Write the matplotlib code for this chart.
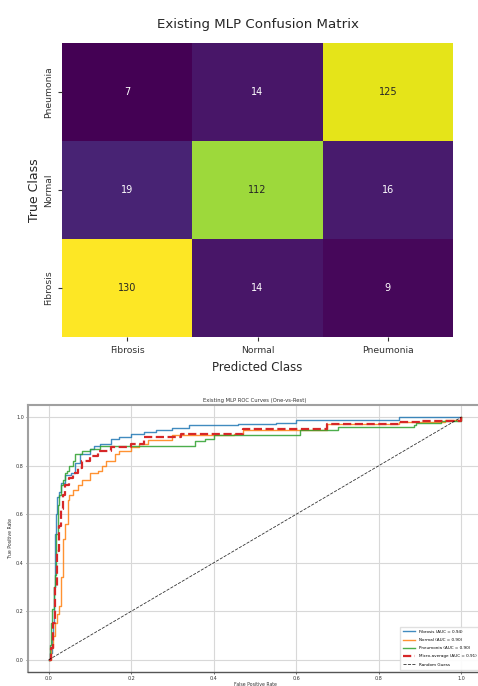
import matplotlib
matplotlib.use("Agg")
import matplotlib.pyplot as plt
import numpy as np
import seaborn as sns

# =========================
# 1. data
# =========================
classes = ["Fibrosis", "Normal", "Pneumonia"]
# rows = true class (Fibrosis, Normal, Pneumonia), cols = predicted class
cm_fibrosis = [130, 14, 9]
cm_normal = [19, 112, 16]
cm_pneumonia = [7, 14, 125]

# ROC curves
fib_fpr = [0, 0.003, 0.008, 0.010, 0.012, 0.015, 0.017, 0.020, 0.025, 0.030, 0.040, 0.055, 0.065,
           0.075, 0.10, 0.11, 0.125, 0.15, 0.17, 0.20, 0.23, 0.26, 0.30, 0.34, 0.46, 0.55, 0.60, 0.85, 1.0]
fib_tpr = [0, 0.03, 0.10, 0.15, 0.30, 0.52, 0.60, 0.67, 0.69, 0.73, 0.76, 0.77, 0.81,
           0.85, 0.87, 0.88, 0.89, 0.91, 0.92, 0.93, 0.94, 0.945, 0.955, 0.966, 0.973, 0.977, 0.99, 1.0, 1.0]

nor_fpr = [0, 0.005, 0.010, 0.015, 0.020, 0.025, 0.030, 0.030, 0.035, 0.040, 0.048, 0.048, 0.050,
           0.060, 0.070, 0.080, 0.10, 0.12, 0.13, 0.14, 0.16, 0.17, 0.20, 0.22, 0.24, 0.30, 0.45,
           0.47, 0.61, 0.675, 0.85, 0.96, 1.0]
nor_tpr = [0, 0.05, 0.10, 0.15, 0.19, 0.22, 0.22, 0.34, 0.50, 0.56, 0.56, 0.66, 0.68,
           0.70, 0.72, 0.74, 0.77, 0.78, 0.80, 0.82, 0.85, 0.86, 0.875, 0.89, 0.904, 0.927, 0.932,
           0.945, 0.948, 0.973, 0.98, 0.99, 1.0]

pne_fpr = [0, 0.003, 0.005, 0.008, 0.012, 0.013, 0.015, 0.018, 0.022, 0.022, 0.025, 0.030, 0.035,
           0.040, 0.045, 0.050, 0.060, 0.065, 0.080, 0.10, 0.125, 0.35, 0.355, 0.38, 0.40, 0.60,
           0.61, 0.70, 0.885, 0.89, 0.95, 1.0]
pne_tpr = [0, 0.06, 0.15, 0.21, 0.21, 0.30, 0.35, 0.52, 0.52, 0.64, 0.68, 0.72, 0.74,
           0.77, 0.78, 0.80, 0.82, 0.85, 0.86, 0.87, 0.88, 0.88, 0.90, 0.91, 0.925, 0.925,
           0.945, 0.959, 0.966, 0.977, 0.984, 1.0]

mic_fpr = [0, 0.005, 0.010, 0.015, 0.020, 0.025, 0.030, 0.035, 0.040, 0.050, 0.060, 0.070, 0.080,
           0.10, 0.12, 0.15, 0.20, 0.23, 0.32, 0.45, 0.47, 0.60, 0.675, 0.85, 0.90, 1.0]
mic_tpr = [0, 0.05, 0.15, 0.30, 0.45, 0.55, 0.62, 0.68, 0.72, 0.75, 0.77, 0.79, 0.82,
           0.84, 0.86, 0.875, 0.89, 0.918, 0.932, 0.932, 0.952, 0.952, 0.973, 0.98, 0.986, 1.0]

roc_labels = ["Fibrosis (AUC = 0.94)", "Normal (AUC = 0.90)", "Pneumonia (AUC = 0.90)",
              "Micro-average (AUC = 0.91)", "Random Guess"]

# =========================
# 2. figure
# =========================
fig = plt.figure(figsize=(4.78, 6.86), dpi=100)

# ---- confusion matrix ----
ax1 = fig.add_axes([62 / 478, (686 - 337) / 686, 391 / 478, 294 / 686])
cm = np.array([cm_fibrosis, cm_normal, cm_pneumonia])
sns.heatmap(cm, annot=True, fmt="d", cmap="viridis", cbar=False, ax=ax1,
            xticklabels=classes, yticklabels=classes, annot_kws={"fontsize": 7})
ax1.invert_yaxis()
ax1.set_title("Existing MLP Confusion Matrix", fontsize=9.6, pad=11, color="#262626")
ax1.set_xlabel("Predicted Class", fontsize=8.5, color="#262626", labelpad=4)
ax1.set_ylabel("True Class", fontsize=9, color="#262626", labelpad=2)
ax1.tick_params(axis="both", labelsize=6.7, length=3, colors="#333333")
plt.setp(ax1.get_yticklabels(), rotation=90, va="center")
plt.setp(ax1.get_xticklabels(), rotation=0)

# ---- ROC curves ----
ax2 = fig.add_axes([28 / 478, (686 - 672) / 686, 454 / 478, 267 / 686])
ax2.plot(fib_fpr, fib_tpr, drawstyle="steps-post", color="#1f77b4", lw=1.0, alpha=0.85, label=roc_labels[0])
ax2.plot(nor_fpr, nor_tpr, drawstyle="steps-post", color="#ff7f0e", lw=1.0, alpha=0.85, label=roc_labels[1])
ax2.plot(pne_fpr, pne_tpr, drawstyle="steps-post", color="#2ca02c", lw=1.0, alpha=0.85, label=roc_labels[2])
ax2.plot(mic_fpr, mic_tpr, drawstyle="steps-post", color="#d62728", lw=1.6, ls="--", label=roc_labels[3])
ax2.plot([0, 1], [0, 1], "k--", lw=0.6, alpha=0.8, label=roc_labels[4])

ax2.set_xlim(-0.05, 1.05)
ax2.set_ylim(-0.05, 1.05)
ax2.set_xticks([0, 0.2, 0.4, 0.6, 0.8, 1.0])
ax2.set_yticks([0, 0.2, 0.4, 0.6, 0.8, 1.0])
ax2.tick_params(labelsize=3.5, length=1.5, width=0.5, pad=1.5, colors="#333333")
ax2.grid(True, color="#d8d8d8", lw=0.8)
ax2.set_title("Existing MLP ROC Curves (One-vs-Rest)", fontsize=3.8, pad=2, color="#333333")
ax2.set_xlabel("False Positive Rate", fontsize=3.3, labelpad=0.5, color="#333333")
ax2.set_ylabel("True Positive Rate", fontsize=3.3, labelpad=2, color="#333333")
for side in ["top", "left"]:
    ax2.spines[side].set_color("#a0a0a0")
    ax2.spines[side].set_linewidth(1.5)
ax2.spines["bottom"].set_color("#555555")
ax2.spines["bottom"].set_linewidth(1.0)
ax2.legend(loc="lower right", fontsize=3.0, handlelength=3, framealpha=0.9,
           edgecolor="#dddddd", borderpad=0.8, labelspacing=1.0)

fig.savefig("out.png", dpi=100)
